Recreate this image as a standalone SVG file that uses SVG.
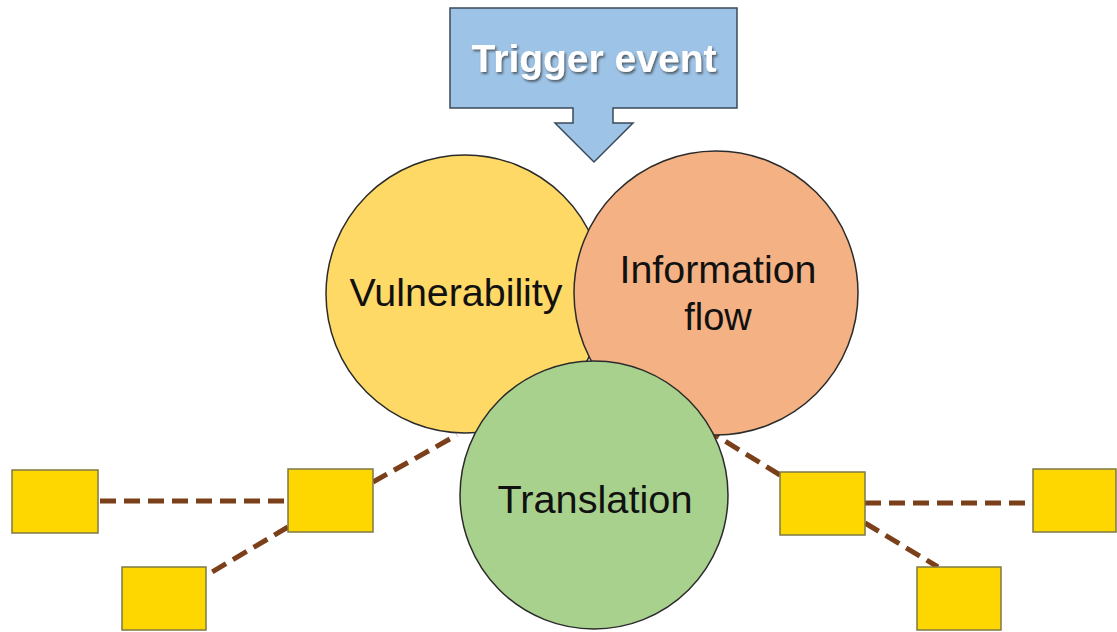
<svg xmlns="http://www.w3.org/2000/svg" width="1117" height="632" viewBox="0 0 1117 632">
<defs>
<style>
.lbl{font-family:"Liberation Sans",Arial,sans-serif;font-size:38px;fill:#111;text-anchor:middle}
.trig{font-family:"Liberation Sans",Arial,sans-serif;font-size:39px;font-weight:bold;fill:#fff;text-anchor:middle}
.circ{stroke:#2b2b2b;stroke-width:1.5}
.box{fill:#FFD700;stroke:#7d7a45;stroke-width:1.5}
.dash{stroke:#7B3F1A;stroke-width:5;stroke-dasharray:16 8;fill:none}
</style>
<filter id="shadow" x="-10%" y="-20%" width="120%" height="150%">
<feDropShadow dx="1.5" dy="2" stdDeviation="1" flood-color="#333" flood-opacity="0.7"/>
</filter>
</defs>
<rect width="1117" height="632" fill="#fff"/>
<g id="connectors">
<line class="dash" x1="100" y1="501" x2="288" y2="501"/>
<line class="dash" x1="288" y1="527" x2="207" y2="575"/>
<line class="dash" x1="373" y1="482" x2="457" y2="435"/>
<line class="dash" x1="865" y1="503" x2="1033" y2="503"/>
<line class="dash" x1="865" y1="523" x2="938" y2="567"/>
<line class="dash" x1="780" y1="475" x2="715" y2="435"/>
</g>
<g id="trigger">
<path d="M450,8 H737 V108 H613 V123 H633 L594,162 L555,123 H573 V108 H450 Z" fill="#9DC3E6" stroke="#3b4a5a" stroke-width="1.5"/>
<text class="trig" x="594" y="72" filter="url(#shadow)">Trigger event</text>
</g>
<g id="vulnerability">
<circle class="circ" cx="465" cy="294" r="139" fill="#FFD966"/>
<text class="lbl" x="456" y="306" textLength="213" lengthAdjust="spacingAndGlyphs">Vulnerability</text>
</g>
<g id="information-flow">
<circle class="circ" cx="716" cy="293" r="142" fill="#F4B183"/>
<text class="lbl" x="718" y="283" textLength="197" lengthAdjust="spacingAndGlyphs">Information</text>
<text class="lbl" x="718" y="330">flow</text>
</g>
<g id="translation">
<circle class="circ" cx="594" cy="495" r="134" fill="#A9D18E"/>
<text class="lbl" x="595" y="513" textLength="195" lengthAdjust="spacingAndGlyphs">Translation</text>
</g>
<g id="box-left-far"><rect class="box" x="12" y="470" width="86" height="63"/></g>
<g id="box-left-mid"><rect class="box" x="288" y="469" width="85" height="63"/></g>
<g id="box-left-low"><rect class="box" x="122" y="567" width="84" height="63"/></g>
<g id="box-right-mid"><rect class="box" x="780" y="472" width="85" height="63"/></g>
<g id="box-right-far"><rect class="box" x="1033" y="469" width="83" height="63"/></g>
<g id="box-right-low"><rect class="box" x="917" y="567" width="84" height="63"/></g>
</svg>
